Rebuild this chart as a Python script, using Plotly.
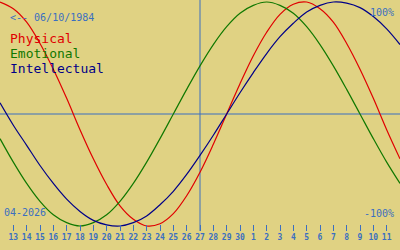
import plotly.graph_objects as go

# ---- data ----
day_index = list(range(31))
day_labels = [13, 14, 15, 16, 17, 18, 19, 20, 21, 22, 23, 24, 25, 26, 27, 28, 29, 30,
              1, 2, 3, 4, 5, 6, 7, 8, 9, 10, 11]
label_index = list(range(1, 30))
today_index = 15

physical = [1.00, 0.94, 0.82, 0.63, 0.40, 0.14, -0.14, -0.40, -0.63, -0.82, -0.94,
            -1.00, -0.98, -0.89, -0.73, -0.52, -0.27, 0.00, 0.27, 0.52, 0.73, 0.89,
            0.98, 1.00, 0.94, 0.82, 0.63, 0.40, 0.14, -0.14, -0.40]
emotional = [-0.22, -0.43, -0.62, -0.78, -0.90, -0.97, -1.00, -0.97, -0.90, -0.78, -0.62,
             -0.43, -0.22, 0.00, 0.22, 0.43, 0.62, 0.78, 0.90, 0.97, 1.00, 0.97,
             0.90, 0.78, 0.62, 0.43, 0.22, 0.00, -0.22, -0.43, -0.62]
intellectual = [0.10, -0.10, -0.28, -0.46, -0.62, -0.76, -0.87, -0.95, -0.99, -1.00, -0.97,
                -0.91, -0.81, -0.69, -0.54, -0.37, -0.19, 0.00, 0.19, 0.37, 0.54, 0.69,
                0.81, 0.91, 0.97, 1.00, 0.99, 0.95, 0.87, 0.76, 0.62]

birth_text = "<-- 06/10/1984"
month_text = "04-2026"
series_names = ["Physical", "Emotional", "Intellectual"]

# ---- styles ----
BG = "#e0d283"
BLUE = "#3b6fc0"
COLORS = ["#e00000", "#107800", "#000088"]
W, H = 400, 250
PLOT_H = 231
MONO = "DejaVu Sans Mono"

fig = go.Figure()
for name, vals, col in zip(series_names, [physical, emotional, intellectual], COLORS):
    fig.add_trace(go.Scatter(x=day_index, y=vals, mode="lines", name=name,
                             line=dict(color=col, width=1.2, shape="spline", smoothing=1.0),
                             hoverinfo="skip"))

# zero line and today line
fig.add_shape(type="line", xref="paper", yref="y", x0=0, x1=1, y0=0, y1=0,
              line=dict(color=BLUE, width=1), layer="below")
fig.add_shape(type="line", xref="x", yref="paper", x0=today_index, x1=today_index, y0=0, y1=1,
              line=dict(color=BLUE, width=1), layer="below")

px_per_unit = 112.0
y_top = 1 + 2 / px_per_unit
y_bot = -1 - (PLOT_H - 226) / px_per_unit

def ann(text, px, py, color, size, xanchor="left"):
    fig.add_annotation(text=text, xref="paper", yref="paper",
                       x=px / W, y=1 - py / PLOT_H, xanchor=xanchor, yanchor="middle",
                       showarrow=False, font=dict(family=MONO, size=size, color=color),
                       borderpad=0)

ann(birth_text, 9, 17, BLUE, 10)
for i, (name, col) in enumerate(zip(series_names, COLORS)):
    ann(name, 9, 38.5 + 15 * i, col, 13)
ann("100%", 395, 12.5, BLUE, 10, "right")
ann("-100%", 395, 213, BLUE, 10, "right")
ann(month_text, 3, 212, BLUE, 10)

fig.update_layout(
    width=W, height=H,
    margin=dict(l=0, r=0, t=0, b=H - PLOT_H, pad=0),
    paper_bgcolor=BG, plot_bgcolor=BG,
    showlegend=False,
    xaxis=dict(range=[0, 30], showgrid=False, zeroline=False, showline=False,
               tickmode="array", tickvals=label_index, ticktext=[str(d) for d in day_labels],
               ticks="inside", ticklen=6, tickwidth=1, tickcolor=BLUE,
               tickfont=dict(family=MONO, size=8, color=BLUE, weight="bold"), fixedrange=True),
    yaxis=dict(range=[y_bot, y_top], showgrid=False, zeroline=False, showline=False,
               showticklabels=False, ticks="", fixedrange=True),
)

fig.write_html("out.html", config={"displayModeBar": False})
